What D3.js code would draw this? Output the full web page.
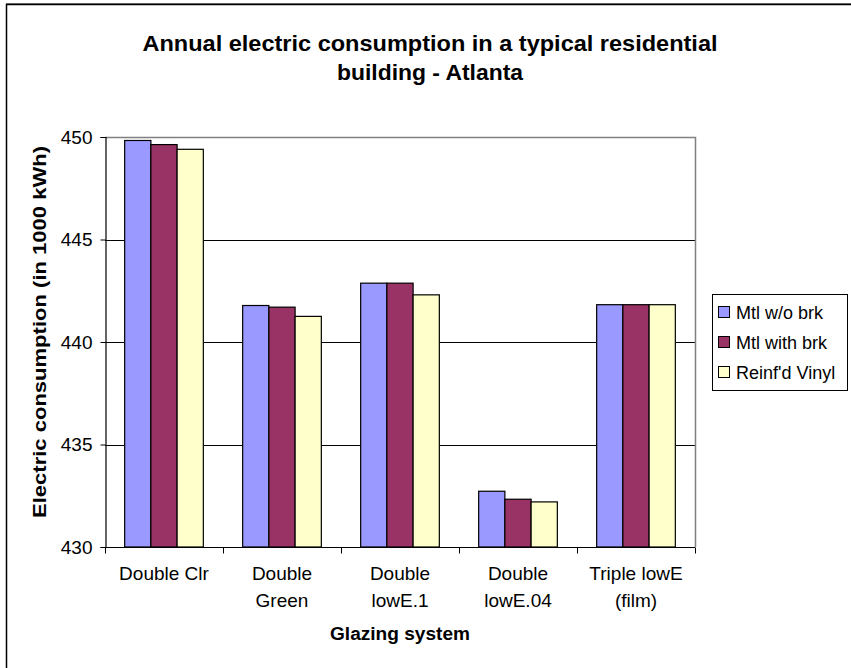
<!DOCTYPE html>
<html>
<head>
<meta charset="utf-8">
<script src="https://cdn.jsdelivr.net/npm/d3@7"></script>
<style>
  html, body { margin: 0; padding: 0; background: #fff; }
  svg { display: block; font-family: "Liberation Sans", Arial, sans-serif; }
</style>
</head>
<body>
<script>
// ---- data ----
const categories = ["Double Clr", "Double\nGreen", "Double\nlowE.1", "Double\nlowE.04", "Triple lowE\n(film)"];
const seriesNames = ["Mtl w/o brk", "Mtl with brk", "Reinf'd Vinyl"];
const mtlWithoutBrk = [449.83, 441.78, 442.87, 432.72, 441.82];
const mtlWithBrk    = [449.63, 441.70, 442.87, 432.33, 441.82];
const reinfdVinyl   = [449.40, 441.25, 442.30, 432.20, 441.82];
const yTicks = [430, 435, 440, 445, 450];
const titleLines = ["Annual electric consumption in a typical residential", "building - Atlanta"];
const xTitle = "Glazing system";
const yTitle = "Electric consumption (in 1000 kWh)";
const colors = ["#9999FF", "#993366", "#FFFFCC"];

const seriesValues = [mtlWithoutBrk, mtlWithBrk, reinfdVinyl];

const W = 851, H = 668;
const plot = { left: 105, right: 695, top: 137, bottom: 547 };

const svg = d3.select("body").append("svg").attr("width", W).attr("height", H);

// outer chart border (right/bottom fall outside the frame)
svg.append("line").attr("x1", 6).attr("x2", W).attr("y1", 3.5).attr("y2", 3.5)
  .attr("stroke", "#808080").attr("stroke-width", 1);
svg.append("rect").attr("x", 6.5).attr("y", 4.5).attr("width", W + 20).attr("height", H + 20)
  .attr("fill", "none").attr("stroke", "#000").attr("stroke-width", 1.5);

// scales
const x0 = d3.scaleBand().domain(categories).range([plot.left, plot.right]).padding(0);
const x1 = d3.scaleBand().domain(seriesNames).range([0, x0.bandwidth()]).paddingInner(0).paddingOuter(0.75);
const y = d3.scaleLinear().domain([430, 450]).range([plot.bottom, plot.top]);

// gridlines
svg.append("g").selectAll("line").data(yTicks.filter(t => t !== 430 && t !== 450)).join("line")
  .attr("x1", plot.left).attr("x2", plot.right)
  .attr("y1", d => Math.round(y(d)) + 0.5).attr("y2", d => Math.round(y(d)) + 0.5)
  .attr("stroke", "#000").attr("stroke-width", 1);

// plot area border (top & right gray)
svg.append("path")
  .attr("d", `M${plot.left},${plot.top + 0.5}H${plot.right + 0.5}V${plot.bottom}`)
  .attr("fill", "none").attr("stroke", "#808080").attr("stroke-width", 1.5);

// bars
const groups = svg.append("g").selectAll("g").data(categories).join("g")
  .attr("transform", d => `translate(${x0(d)},0)`);
groups.selectAll("rect")
  .data((c, ci) => seriesNames.map((s, si) => ({ s, si, v: seriesValues[si][ci] })))
  .join("rect")
  .attr("x", d => x1(d.s))
  .attr("y", d => y(d.v))
  .attr("width", x1.bandwidth())
  .attr("height", d => y(430) - y(d.v))
  .attr("fill", d => colors[d.si])
  .attr("stroke", "#000").attr("stroke-width", 1.2);

// y axis
const yAxis = d3.axisLeft(y).tickValues(yTicks).tickSize(5).tickPadding(8).tickFormat(d3.format("d"));
const gy = svg.append("g").attr("transform", `translate(${plot.left + 0.5},0)`).call(yAxis);
gy.select(".domain").attr("stroke", "#000").attr("stroke-width", 1.2);
gy.selectAll(".tick line").attr("stroke", "#000");
gy.selectAll(".tick text").attr("font-size", 19).attr("fill", "#000")
  .attr("font-family", "Liberation Sans, Arial, sans-serif");

// x axis
const gx = svg.append("g").attr("transform", `translate(0,${plot.bottom + 0.5})`);
gx.append("line").attr("x1", plot.left).attr("x2", plot.right).attr("stroke", "#000").attr("stroke-width", 1.2);
const boundaries = categories.map(c => x0(c)).concat([x0(categories[categories.length - 1]) + x0.bandwidth()]);
gx.selectAll(".xt").data(boundaries).join("line").attr("class", "xt")
  .attr("x1", d => Math.round(d) + 0.5).attr("x2", d => Math.round(d) + 0.5)
  .attr("y1", 0).attr("y2", 6).attr("stroke", "#000");
const xl = svg.append("g").selectAll("text").data(categories).join("text")
  .attr("x", d => x0(d) + x0.bandwidth() / 2)
  .attr("y", 580)
  .attr("text-anchor", "middle").attr("font-size", 19).attr("fill", "#000");
xl.each(function (d) {
  const lines = d.split("\n");
  d3.select(this).selectAll("tspan").data(lines).join("tspan")
    .attr("x", x0(d) + x0.bandwidth() / 2)
    .attr("dy", (l, i) => i === 0 ? 0 : 27)
    .text(l => l);
});

// titles
const titleLens = [575, 186];
svg.append("g").selectAll("text").data(titleLines).join("text")
  .attr("x", 430).attr("y", (d, i) => 51 + i * 29)
  .attr("text-anchor", "middle")
  .attr("font-size", 22).attr("font-weight", "bold").attr("fill", "#000")
  .attr("textLength", (d, i) => titleLens[i]).attr("lengthAdjust", "spacingAndGlyphs")
  .text(d => d);

svg.append("text").attr("x", 400).attr("y", 640).attr("text-anchor", "middle")
  .attr("font-size", 18).attr("font-weight", "bold")
  .attr("textLength", 140).attr("lengthAdjust", "spacingAndGlyphs").text(xTitle);

svg.append("text").attr("transform", `translate(46,${(plot.top + plot.bottom) / 2 - 10}) rotate(-90)`)
  .attr("text-anchor", "middle").attr("font-size", 18).attr("font-weight", "bold")
  .attr("textLength", 372).attr("lengthAdjust", "spacingAndGlyphs").text(yTitle);

// legend
const lg = svg.append("g").attr("transform", "translate(712,294)");
lg.append("rect").attr("x", 0.5).attr("y", 0.5).attr("width", 135).attr("height", 96)
  .attr("fill", "#fff").attr("stroke", "#000").attr("stroke-width", 1);
const li = lg.selectAll(".li").data(seriesNames).join("g").attr("class", "li")
  .attr("transform", (d, i) => `translate(0,${18 + i * 30})`);
li.append("rect").attr("x", 6.5).attr("y", -5.5).attr("width", 11).attr("height", 11)
  .attr("fill", (d, i) => colors[i]).attr("stroke", "#000").attr("stroke-width", 1);
li.append("text").attr("x", 24).attr("y", 6.5).attr("font-size", 18).text(d => d);
</script>
</body>
</html>
